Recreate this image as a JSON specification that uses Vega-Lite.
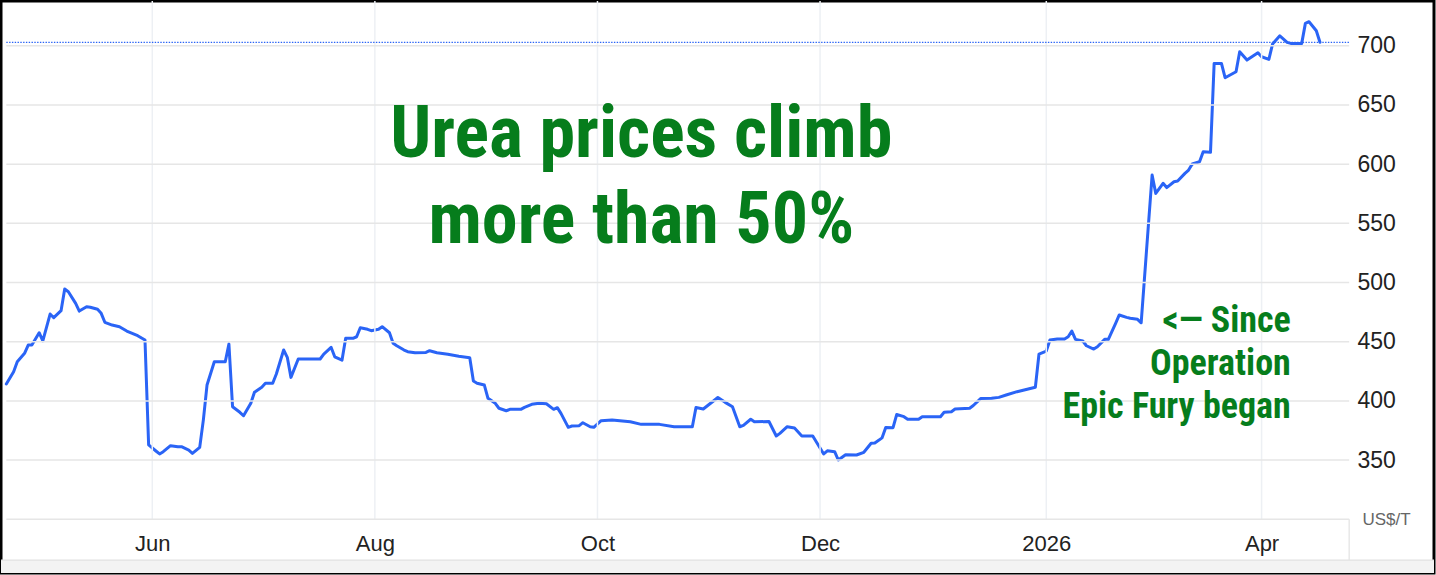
{
  "$schema": "https://vega.github.io/schema/vega-lite/v6.json",
  "width": 1433,
  "height": 572,
  "autosize": {"type": "none"},
  "padding": {"left": 1, "top": 1, "right": 2, "bottom": 2},
  "background": "#ffffff",
  "config": {
    "view": {"stroke": "#000000", "strokeWidth": 3},
    "axis": {"grid": false, "domain": false, "ticks": false, "tickSize": 0}
  },
  "datasets": {
    "urea": [
      {"date": "2025-04-22", "price": 414.3},
      {"date": "2025-04-24", "price": 424.7},
      {"date": "2025-04-25", "price": 433.1},
      {"date": "2025-04-27", "price": 440.2},
      {"date": "2025-04-28", "price": 447.2},
      {"date": "2025-04-29", "price": 447.2},
      {"date": "2025-05-01", "price": 457.6},
      {"date": "2025-05-02", "price": 450.8},
      {"date": "2025-05-04", "price": 473.4},
      {"date": "2025-05-05", "price": 470.3},
      {"date": "2025-05-07", "price": 476.2},
      {"date": "2025-05-08", "price": 494.5},
      {"date": "2025-05-09", "price": 492.2},
      {"date": "2025-05-11", "price": 482.4},
      {"date": "2025-05-12", "price": 475.9},
      {"date": "2025-05-14", "price": 479.6},
      {"date": "2025-05-15", "price": 479.1},
      {"date": "2025-05-17", "price": 477.4},
      {"date": "2025-05-18", "price": 474.0},
      {"date": "2025-05-19", "price": 466.4},
      {"date": "2025-05-21", "price": 464.1},
      {"date": "2025-05-23", "price": 462.7},
      {"date": "2025-05-25", "price": 459.0},
      {"date": "2025-05-28", "price": 455.1},
      {"date": "2025-05-30", "price": 451.4},
      {"date": "2025-05-31", "price": 362.8},
      {"date": "2025-06-02", "price": 357.7},
      {"date": "2025-06-03", "price": 355.2},
      {"date": "2025-06-04", "price": 357.1},
      {"date": "2025-06-06", "price": 362.2},
      {"date": "2025-06-08", "price": 361.3},
      {"date": "2025-06-09", "price": 361.3},
      {"date": "2025-06-11", "price": 358.5},
      {"date": "2025-06-12", "price": 355.7},
      {"date": "2025-06-14", "price": 360.8},
      {"date": "2025-06-15", "price": 384.0},
      {"date": "2025-06-16", "price": 413.4},
      {"date": "2025-06-18", "price": 433.1},
      {"date": "2025-06-21", "price": 433.1},
      {"date": "2025-06-22", "price": 448.1},
      {"date": "2025-06-23", "price": 395.1},
      {"date": "2025-06-25", "price": 390.4},
      {"date": "2025-06-26", "price": 387.5},
      {"date": "2025-06-28", "price": 398.0},
      {"date": "2025-06-29", "price": 407.3},
      {"date": "2025-07-01", "price": 411.5},
      {"date": "2025-07-02", "price": 414.9},
      {"date": "2025-07-04", "price": 414.9},
      {"date": "2025-07-05", "price": 422.7},
      {"date": "2025-07-07", "price": 443.0},
      {"date": "2025-07-08", "price": 436.8},
      {"date": "2025-07-09", "price": 419.9},
      {"date": "2025-07-11", "price": 435.4},
      {"date": "2025-07-17", "price": 435.4},
      {"date": "2025-07-18", "price": 439.6},
      {"date": "2025-07-20", "price": 445.3},
      {"date": "2025-07-21", "price": 437.3},
      {"date": "2025-07-23", "price": 434.5},
      {"date": "2025-07-24", "price": 452.9},
      {"date": "2025-07-26", "price": 452.9},
      {"date": "2025-07-27", "price": 454.2},
      {"date": "2025-07-28", "price": 461.8},
      {"date": "2025-07-30", "price": 460.5},
      {"date": "2025-07-31", "price": 459.3},
      {"date": "2025-08-02", "price": 460.5},
      {"date": "2025-08-03", "price": 462.7},
      {"date": "2025-08-05", "price": 457.6},
      {"date": "2025-08-06", "price": 448.7},
      {"date": "2025-08-07", "price": 446.6},
      {"date": "2025-08-09", "price": 443.0},
      {"date": "2025-08-10", "price": 441.6},
      {"date": "2025-08-12", "price": 440.7},
      {"date": "2025-08-15", "price": 441.0},
      {"date": "2025-08-16", "price": 442.4},
      {"date": "2025-08-18", "price": 440.7},
      {"date": "2025-08-21", "price": 439.4},
      {"date": "2025-08-24", "price": 437.7},
      {"date": "2025-08-27", "price": 436.5},
      {"date": "2025-08-28", "price": 416.8},
      {"date": "2025-08-29", "price": 414.9},
      {"date": "2025-08-31", "price": 413.4},
      {"date": "2025-09-01", "price": 402.2},
      {"date": "2025-09-03", "price": 398.0},
      {"date": "2025-09-04", "price": 393.8},
      {"date": "2025-09-06", "price": 391.7},
      {"date": "2025-09-07", "price": 392.9},
      {"date": "2025-09-10", "price": 392.9},
      {"date": "2025-09-11", "price": 394.6},
      {"date": "2025-09-13", "price": 397.1},
      {"date": "2025-09-15", "price": 398.0},
      {"date": "2025-09-17", "price": 397.6},
      {"date": "2025-09-19", "price": 392.9},
      {"date": "2025-09-20", "price": 394.3},
      {"date": "2025-09-21", "price": 389.5},
      {"date": "2025-09-23", "price": 377.7},
      {"date": "2025-09-24", "price": 378.8},
      {"date": "2025-09-26", "price": 379.1},
      {"date": "2025-09-27", "price": 381.6},
      {"date": "2025-09-29", "price": 378.2},
      {"date": "2025-09-30", "price": 377.7},
      {"date": "2025-10-02", "price": 383.3},
      {"date": "2025-10-05", "price": 383.9},
      {"date": "2025-10-10", "price": 382.4},
      {"date": "2025-10-13", "price": 380.2},
      {"date": "2025-10-18", "price": 380.2},
      {"date": "2025-10-22", "price": 378.2},
      {"date": "2025-10-27", "price": 378.2},
      {"date": "2025-10-28", "price": 394.4},
      {"date": "2025-10-30", "price": 393.2},
      {"date": "2025-11-03", "price": 402.9},
      {"date": "2025-11-05", "price": 398.8},
      {"date": "2025-11-07", "price": 395.1},
      {"date": "2025-11-09", "price": 378.2},
      {"date": "2025-11-10", "price": 379.4},
      {"date": "2025-11-12", "price": 384.5},
      {"date": "2025-11-13", "price": 382.4},
      {"date": "2025-11-17", "price": 382.6},
      {"date": "2025-11-19", "price": 370.4},
      {"date": "2025-11-20", "price": 372.6},
      {"date": "2025-11-22", "price": 378.2},
      {"date": "2025-11-24", "price": 377.1},
      {"date": "2025-11-26", "price": 370.4},
      {"date": "2025-11-29", "price": 370.4},
      {"date": "2025-12-02", "price": 355.2},
      {"date": "2025-12-03", "price": 357.9},
      {"date": "2025-12-05", "price": 357.1},
      {"date": "2025-12-06", "price": 350.1},
      {"date": "2025-12-08", "price": 354.6},
      {"date": "2025-12-11", "price": 354.3},
      {"date": "2025-12-13", "price": 356.6},
      {"date": "2025-12-15", "price": 364.2},
      {"date": "2025-12-16", "price": 364.4},
      {"date": "2025-12-18", "price": 368.8},
      {"date": "2025-12-19", "price": 377.5},
      {"date": "2025-12-21", "price": 377.4},
      {"date": "2025-12-22", "price": 388.5},
      {"date": "2025-12-24", "price": 386.7},
      {"date": "2025-12-25", "price": 384.5},
      {"date": "2025-12-28", "price": 384.5},
      {"date": "2025-12-29", "price": 386.7},
      {"date": "2026-01-03", "price": 386.7},
      {"date": "2026-01-04", "price": 390.4},
      {"date": "2026-01-06", "price": 390.9},
      {"date": "2026-01-07", "price": 393.2},
      {"date": "2026-01-11", "price": 393.8},
      {"date": "2026-01-12", "price": 396.1},
      {"date": "2026-01-14", "price": 402.0},
      {"date": "2026-01-17", "price": 402.2},
      {"date": "2026-01-19", "price": 403.0},
      {"date": "2026-01-21", "price": 405.0},
      {"date": "2026-01-24", "price": 407.8},
      {"date": "2026-01-29", "price": 411.5},
      {"date": "2026-01-30", "price": 439.6},
      {"date": "2026-02-01", "price": 442.1},
      {"date": "2026-02-02", "price": 451.4},
      {"date": "2026-02-04", "price": 452.3},
      {"date": "2026-02-06", "price": 452.3},
      {"date": "2026-02-07", "price": 454.2},
      {"date": "2026-02-08", "price": 459.0},
      {"date": "2026-02-09", "price": 452.0},
      {"date": "2026-02-11", "price": 450.6},
      {"date": "2026-02-12", "price": 446.6},
      {"date": "2026-02-14", "price": 443.8},
      {"date": "2026-02-15", "price": 445.8},
      {"date": "2026-02-17", "price": 452.0},
      {"date": "2026-02-18", "price": 452.0},
      {"date": "2026-02-20", "price": 465.5},
      {"date": "2026-02-21", "price": 472.6},
      {"date": "2026-02-23", "price": 470.6},
      {"date": "2026-02-24", "price": 469.8},
      {"date": "2026-02-26", "price": 468.9},
      {"date": "2026-02-27", "price": 466.0},
      {"date": "2026-03-02", "price": 590.8},
      {"date": "2026-03-03", "price": 575.3},
      {"date": "2026-03-05", "price": 583.8},
      {"date": "2026-03-06", "price": 580.2},
      {"date": "2026-03-08", "price": 585.1},
      {"date": "2026-03-09", "price": 585.7},
      {"date": "2026-03-11", "price": 592.2},
      {"date": "2026-03-12", "price": 595.0},
      {"date": "2026-03-13", "price": 600.1},
      {"date": "2026-03-15", "price": 602.0},
      {"date": "2026-03-16", "price": 610.5},
      {"date": "2026-03-18", "price": 610.0},
      {"date": "2026-03-19", "price": 685.1},
      {"date": "2026-03-21", "price": 685.1},
      {"date": "2026-03-22", "price": 673.0},
      {"date": "2026-03-25", "price": 678.0},
      {"date": "2026-03-26", "price": 694.9},
      {"date": "2026-03-28", "price": 687.9},
      {"date": "2026-03-31", "price": 694.1},
      {"date": "2026-04-01", "price": 690.7},
      {"date": "2026-04-03", "price": 688.5},
      {"date": "2026-04-04", "price": 701.4},
      {"date": "2026-04-06", "price": 708.4},
      {"date": "2026-04-08", "price": 702.9},
      {"date": "2026-04-09", "price": 702.0},
      {"date": "2026-04-12", "price": 702.0},
      {"date": "2026-04-13", "price": 718.9},
      {"date": "2026-04-14", "price": 720.3},
      {"date": "2026-04-16", "price": 712.7},
      {"date": "2026-04-17", "price": 702.9}
    ],
    "hgrid": [{"v": 300}, {"v": 350}, {"v": 400}, {"v": 450}, {"v": 500}, {"v": 550}, {"v": 600}, {"v": 650}, {"v": 700}],
    "vgrid": [{"d": "2025-06-01"}, {"d": "2025-08-01"}, {"d": "2025-10-01"}, {"d": "2025-12-01"}, {"d": "2026-02-01"}, {"d": "2026-04-01"}],
    "last": [{"price": 702.9}],
    "headline": [
      {"t": "Urea prices climb", "d": "2025-10-13", "v": 606.0},
      {"t": "more than 50%", "d": "2025-10-13", "v": 533.4}
    ],
    "note": [
      {"t": "<— Since", "d": "2026-04-09", "v": 458.2},
      {"t": "Operation", "d": "2026-04-09", "v": 421.9},
      {"t": "Epic Fury began", "d": "2026-04-09", "v": 385.6}
    ]
  },
  "layer": [
    {
      "data": {"name": "urea"},
      "mark": {"type": "line", "color": "#2a64f6", "strokeWidth": 3, "strokeJoin": "round", "strokeCap": "round", "zindex": 2},
      "encoding": {
        "x": {
          "field": "date",
          "type": "temporal",
          "title": null,
          "scale": {"type": "utc", "domain": [{"year": 2025, "month": 4, "date": 20, "hours": 13, "utc": true}, {"year": 2026, "month": 5, "date": 18, "hours": 6, "utc": true}]},
          "axis": {
            "title": null,
            "orient": "bottom",
            "offset": -53.7,
            "values": [
              {"year": 2025, "month": 6, "date": 1, "utc": true},
              {"year": 2025, "month": 8, "date": 1, "utc": true},
              {"year": 2025, "month": 10, "date": 1, "utc": true},
              {"year": 2025, "month": 12, "date": 1, "utc": true},
              {"year": 2026, "month": 2, "date": 1, "utc": true},
              {"year": 2026, "month": 4, "date": 1, "utc": true}
            ],
            "labelExpr": "utcFormat(datum.value, '%m') == '02' ? '2026' : utcFormat(datum.value, '%b')",
            "labelFont": "Liberation Sans",
            "labelFontSize": 22,
            "labelColor": "#222222",
            "labelPadding": 14,
            "labelBaseline": "top",
            "labelAlign": "center",
            "labelFlush": false,
            "labelOverlap": false
          }
        },
        "y": {
          "field": "price",
          "type": "quantitative",
          "title": null,
          "scale": {"domain": [254.65, 737.8], "nice": false, "zero": false},
          "axis": {
            "title": null,
            "orient": "right",
            "offset": -77,
            "values": [300, 350, 400, 450, 500, 550, 600, 650, 700],
            "labelExpr": "datum.value == 300 ? 'US$/T' : datum.label",
            "labelFont": "Liberation Sans",
            "labelFontSize": {"condition": {"test": "datum.value == 300", "value": 17}, "value": 23},
            "labelColor": {"condition": {"test": "datum.value == 300", "value": "#666666"}, "value": "#222222"},
            "labelPadding": {"condition": {"test": "datum.value == 300", "value": 5}, "value": 0},
            "labelBaseline": "middle",
            "labelAlign": "left",
            "labelFlush": false,
            "labelOverlap": false
          }
        }
      }
    },
    {
      "data": {"values": [{}]},
      "mark": {"type": "rect", "fill": "#f3f3f3"},
      "encoding": {
        "x": {"datum": {"year": 2025, "month": 4, "date": 20, "hours": 13, "utc": true}, "type": "temporal"},
        "x2": {"datum": {"year": 2026, "month": 5, "date": 18, "hours": 6, "utc": true}},
        "y": {"datum": 265.6, "type": "quantitative"},
        "y2": {"datum": 254.65}
      }
    },
    {
      "data": {"values": [{}]},
      "mark": {"type": "rule", "color": "#e2e2e2", "strokeWidth": 1.2},
      "encoding": {
        "x": {"datum": {"year": 2025, "month": 4, "date": 20, "hours": 13, "utc": true}, "type": "temporal"},
        "x2": {"datum": {"year": 2026, "month": 5, "date": 18, "hours": 6, "utc": true}},
        "y": {"datum": 265.6, "type": "quantitative"}
      }
    },
    {
      "data": {"values": [{}]},
      "mark": {"type": "rule", "color": "#e2e2e2", "strokeWidth": 1.2},
      "encoding": {
        "x": {"datum": {"year": 2026, "month": 4, "date": 25, "utc": true}, "type": "temporal"},
        "y": {"datum": 300, "type": "quantitative"},
        "y2": {"datum": 265.6}
      }
    },
    {
      "data": {"name": "vgrid"},
      "mark": {"type": "rule", "color": "#edf0f4", "strokeWidth": 1.5},
      "encoding": {
        "x": {"field": "d", "type": "temporal", "title": null},
        "y": {"datum": 300, "type": "quantitative"},
        "y2": {"datum": 737.8}
      }
    },
    {
      "data": {"name": "hgrid"},
      "mark": {"type": "rule", "color": "#e6e6e6", "strokeWidth": 1.5},
      "encoding": {
        "x": {"datum": {"year": 2025, "month": 4, "date": 22, "utc": true}, "type": "temporal"},
        "x2": {"datum": {"year": 2026, "month": 4, "date": 25, "utc": true}},
        "y": {"field": "v", "type": "quantitative", "title": null}
      }
    },
    {
      "data": {"name": "last"},
      "mark": {"type": "rule", "color": "#2a64f6", "strokeWidth": 1.3, "strokeDash": [1.4, 1.4]},
      "encoding": {
        "x": {"datum": {"year": 2025, "month": 4, "date": 22, "utc": true}, "type": "temporal"},
        "x2": {"datum": {"year": 2026, "month": 4, "date": 25, "utc": true}},
        "y": {"field": "price", "type": "quantitative", "title": null}
      }
    },
    {
      "data": {"name": "headline"},
      "mark": {"type": "text", "align": "center", "baseline": "alphabetic", "font": "Roboto Condensed, DejaVu Sans Condensed, sans-serif", "fontWeight": "bold", "fontSize": 72, "color": "#067d1c"},
      "encoding": {
        "x": {"field": "d", "type": "temporal", "title": null},
        "y": {"field": "v", "type": "quantitative", "title": null},
        "text": {"field": "t"}
      }
    },
    {
      "data": {"name": "note"},
      "mark": {"type": "text", "align": "right", "baseline": "alphabetic", "font": "Roboto Condensed, DejaVu Sans Condensed, sans-serif", "fontWeight": "bold", "fontSize": 36, "color": "#067d1c"},
      "encoding": {
        "x": {"field": "d", "type": "temporal", "title": null},
        "y": {"field": "v", "type": "quantitative", "title": null},
        "text": {"field": "t"}
      }
    }
  ]
}
